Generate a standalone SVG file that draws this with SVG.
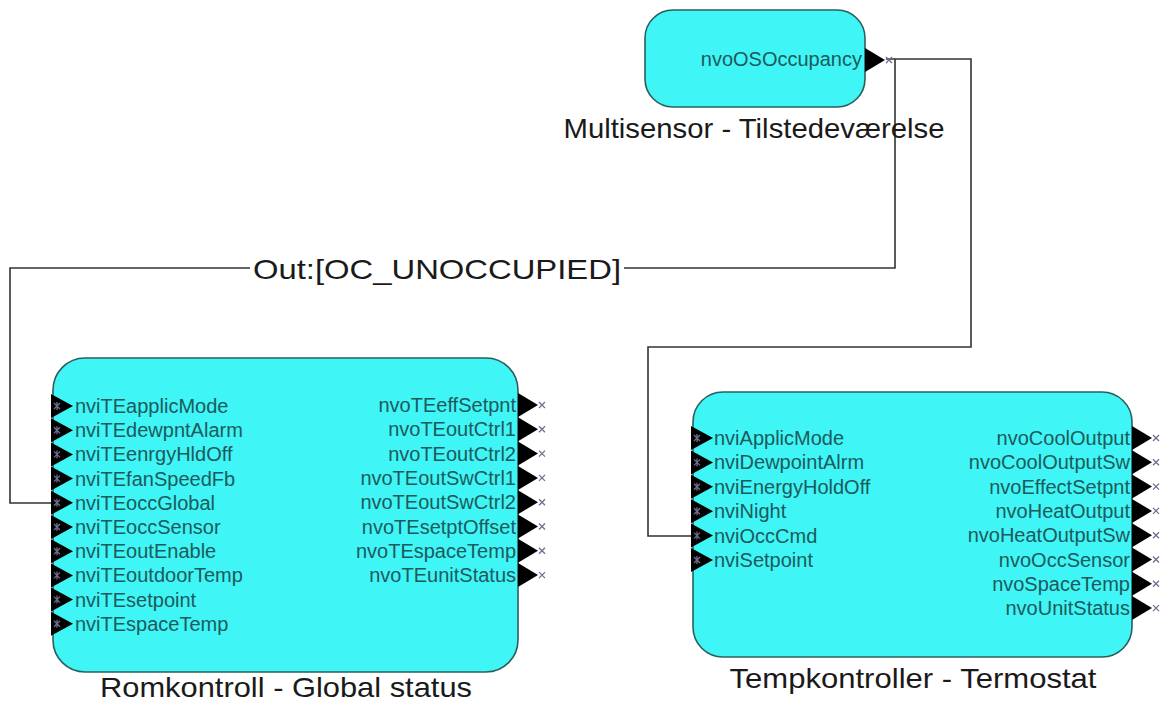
<svg xmlns="http://www.w3.org/2000/svg" xmlns:xlink="http://www.w3.org/1999/xlink" width="1168" height="704" viewBox="0 0 1168 704">
<style>
.node{fill:#3ff5f5;stroke:#2b5f5f;stroke-width:1.6}
.port{font-family:"Liberation Sans",Arial,sans-serif;font-size:20px;fill:#1d5a5c}
.pin{text-anchor:start}
.pout{text-anchor:end}
.lbl{font-family:"Liberation Sans",Arial,sans-serif;font-size:28px;fill:#1a1a1a;text-anchor:middle}
.wire{fill:none;stroke:#333;stroke-width:1.6}
.tri{fill:#000}
.xm{stroke:#6e6e90;stroke-width:1.3;fill:none}
</style>
<defs>
<g id="inP"><path class="tri" d="M-2,-12 L20,0 L-2,12 Z"/><path class="xm" d="M1,-3 L7,3 M1,3 L7,-3 M4,-4 L4,4"/></g>
<g id="outP"><path class="tri" d="M0,-12 L20,0 L0,12 Z"/><path class="xm" d="M21,-3 L27,3 M21,3 L27,-3"/></g>
</defs>
<rect width="1168" height="704" fill="#fff"/>
<g id="connectors">
<path class="wire" d="M886,59 H971 V347 H648 V536 H693"/>
<path class="wire" d="M895,59 V268 H624"/>
<path class="wire" d="M250,268 H10 V503 H53"/>
<text class="lbl" x="437" y="279" textLength="368" lengthAdjust="spacingAndGlyphs">Out:[OC_UNOCCUPIED]</text>
</g>
<g id="multisensor">
<rect class="node" x="645" y="10" width="220" height="97" rx="28"/>
<use xlink:href="#outP" x="865" y="60"/>
<text class="port pout" x="862" y="66">nvoOSOccupancy</text>
<text class="lbl" x="754" y="138" textLength="381" lengthAdjust="spacingAndGlyphs">Multisensor - Tilstedeværelse</text>
</g>
<g id="romkontroll">
<rect class="node" x="53" y="358" width="465" height="314" rx="32"/>
<use xlink:href="#inP" x="53" y="406"/>
<use xlink:href="#inP" x="53" y="430.2"/>
<use xlink:href="#inP" x="53" y="454.4"/>
<use xlink:href="#inP" x="53" y="478.6"/>
<use xlink:href="#inP" x="53" y="502.8"/>
<use xlink:href="#inP" x="53" y="527"/>
<use xlink:href="#inP" x="53" y="551.2"/>
<use xlink:href="#inP" x="53" y="575.4"/>
<use xlink:href="#inP" x="53" y="599.6"/>
<use xlink:href="#inP" x="53" y="623.8"/>
<text class="port pin" x="75" y="413">nviTEapplicMode</text>
<text class="port pin" x="75" y="437.2">nviTEdewpntAlarm</text>
<text class="port pin" x="75" y="461.4">nviTEenrgyHldOff</text>
<text class="port pin" x="75" y="485.6">nviTEfanSpeedFb</text>
<text class="port pin" x="75" y="509.8">nviTEoccGlobal</text>
<text class="port pin" x="75" y="534">nviTEoccSensor</text>
<text class="port pin" x="75" y="558.2">nviTEoutEnable</text>
<text class="port pin" x="75" y="582.4">nviTEoutdoorTemp</text>
<text class="port pin" x="75" y="606.6">nviTEsetpoint</text>
<text class="port pin" x="75" y="630.8">nviTEspaceTemp</text>
<use xlink:href="#outP" x="518" y="405"/>
<use xlink:href="#outP" x="518" y="429.3"/>
<use xlink:href="#outP" x="518" y="453.6"/>
<use xlink:href="#outP" x="518" y="477.9"/>
<use xlink:href="#outP" x="518" y="502.2"/>
<use xlink:href="#outP" x="518" y="526.5"/>
<use xlink:href="#outP" x="518" y="550.8"/>
<use xlink:href="#outP" x="518" y="575.1"/>
<text class="port pout" x="516" y="412">nvoTEeffSetpnt</text>
<text class="port pout" x="516" y="436.3">nvoTEoutCtrl1</text>
<text class="port pout" x="516" y="460.6">nvoTEoutCtrl2</text>
<text class="port pout" x="516" y="484.9">nvoTEoutSwCtrl1</text>
<text class="port pout" x="516" y="509.2">nvoTEoutSwCtrl2</text>
<text class="port pout" x="516" y="533.5">nvoTEsetptOffset</text>
<text class="port pout" x="516" y="557.8">nvoTEspaceTemp</text>
<text class="port pout" x="516" y="582.1">nvoTEunitStatus</text>
<text class="lbl" x="286" y="697" textLength="372" lengthAdjust="spacingAndGlyphs">Romkontroll - Global status</text>
</g>
<g id="tempkontroller">
<rect class="node" x="693" y="392" width="439" height="265" rx="30"/>
<use xlink:href="#inP" x="693" y="438"/>
<use xlink:href="#inP" x="693" y="462.4"/>
<use xlink:href="#inP" x="693" y="486.8"/>
<use xlink:href="#inP" x="693" y="511.2"/>
<use xlink:href="#inP" x="693" y="535.6"/>
<use xlink:href="#inP" x="693" y="560"/>
<text class="port pin" x="714" y="445">nviApplicMode</text>
<text class="port pin" x="714" y="469.4">nviDewpointAlrm</text>
<text class="port pin" x="714" y="493.8">nviEnergyHoldOff</text>
<text class="port pin" x="714" y="518.2">nviNight</text>
<text class="port pin" x="714" y="542.6">nviOccCmd</text>
<text class="port pin" x="714" y="567">nviSetpoint</text>
<use xlink:href="#outP" x="1132" y="438"/>
<use xlink:href="#outP" x="1132" y="462.3"/>
<use xlink:href="#outP" x="1132" y="486.6"/>
<use xlink:href="#outP" x="1132" y="510.9"/>
<use xlink:href="#outP" x="1132" y="535.2"/>
<use xlink:href="#outP" x="1132" y="559.5"/>
<use xlink:href="#outP" x="1132" y="583.8"/>
<use xlink:href="#outP" x="1132" y="608.1"/>
<text class="port pout" x="1130" y="445">nvoCoolOutput</text>
<text class="port pout" x="1130" y="469.3">nvoCoolOutputSw</text>
<text class="port pout" x="1130" y="493.6">nvoEffectSetpnt</text>
<text class="port pout" x="1130" y="517.9">nvoHeatOutput</text>
<text class="port pout" x="1130" y="542.2">nvoHeatOutputSw</text>
<text class="port pout" x="1130" y="566.5">nvoOccSensor</text>
<text class="port pout" x="1130" y="590.8">nvoSpaceTemp</text>
<text class="port pout" x="1130" y="615.1">nvoUnitStatus</text>
<text class="lbl" x="913" y="688" textLength="367" lengthAdjust="spacingAndGlyphs">Tempkontroller - Termostat</text>
</g>
</svg>
